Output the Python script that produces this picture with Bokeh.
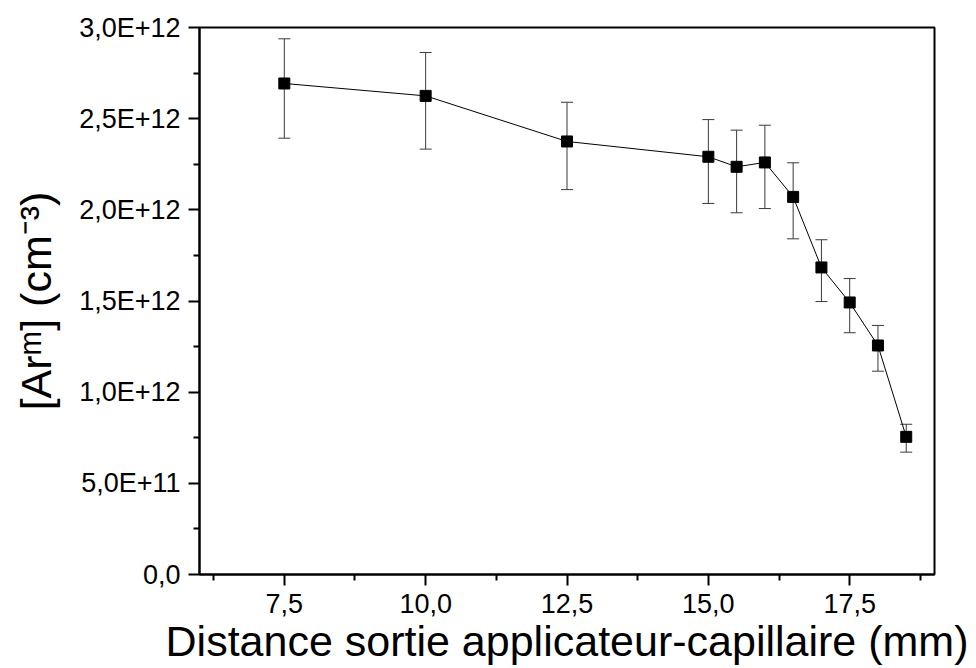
import numpy as np
from bokeh.plotting import figure
from bokeh.models import (Range1d, FixedTicker, CustomJSTickFormatter, Whisker,
                          TeeHead, ColumnDataSource)
from bokeh.embed import file_html
from bokeh.resources import INLINE

# ---- data ----
distance_mm = [7.5, 10.0, 12.5, 15.0, 15.5, 16.0, 16.5, 17.0, 17.5, 18.0, 18.5]
ar_m = [2.693e12, 2.625e12, 2.375e12, 2.291e12, 2.236e12, 2.260e12,
        2.071e12, 1.684e12, 1.492e12, 1.256e12, 0.755e12]
ar_m_upper = [2.938e12, 2.863e12, 2.590e12, 2.495e12, 2.437e12, 2.464e12,
              2.258e12, 1.836e12, 1.623e12, 1.366e12, 0.824e12]
ar_m_lower = [2.393e12, 2.333e12, 2.111e12, 2.035e12, 1.984e12, 2.007e12,
              1.841e12, 1.497e12, 1.326e12, 1.115e12, 0.671e12]

x_tick_values = [7.5, 10.0, 12.5, 15.0, 17.5]
x_tick_labels = ["7,5", "10,0", "12,5", "15,0", "17,5"]
y_tick_values = [0.0, 0.5e12, 1.0e12, 1.5e12, 2.0e12, 2.5e12, 3.0e12]
y_tick_labels = ["0,0", "5,0E+11", "1,0E+12", "1,5E+12", "2,0E+12", "2,5E+12", "3,0E+12"]

x_title = "Distance sortie applicateur-capillaire (mm)"
y_title = "[Ar\u1d50] (cm\u207b\u00b3)"

FONT = "Liberation Sans"

src = ColumnDataSource(dict(x=distance_mm, y=ar_m, up=ar_m_upper, lo=ar_m_lower))

p = figure(width=976, height=668, output_backend="svg", toolbar_location=None,
           x_range=Range1d(6.0, 19.0), y_range=Range1d(0.0, 3.0e12),
           min_border_left=199, min_border_right=42, min_border_top=27,
           min_border_bottom=94)
p.background_fill_color = "white"
p.border_fill_color = "white"
p.grid.visible = False
p.outline_line_color = "black"
p.outline_line_width = 2

# minor ticks halfway between majors (computed from the major spacing)
x_minor = list(np.arange(6.25, 19.0, 2.5))
y_minor = list(np.arange(0.25e12, 3.0e12, 0.5e12))

fmt_code = """
let best = 0;
for (let i = 0; i < vals.length; i++) {
  if (Math.abs(vals[i] - tick) < Math.abs(vals[best] - tick)) best = i;
}
return labs[best];
"""
p.xaxis.ticker = FixedTicker(ticks=x_tick_values, minor_ticks=x_minor)
p.yaxis.ticker = FixedTicker(ticks=y_tick_values, minor_ticks=y_minor)
p.xaxis.formatter = CustomJSTickFormatter(args=dict(vals=x_tick_values, labs=x_tick_labels), code=fmt_code)
p.yaxis.formatter = CustomJSTickFormatter(args=dict(vals=y_tick_values, labs=y_tick_labels), code=fmt_code)

for ax in (p.xaxis[0], p.yaxis[0]):
    ax.axis_line_width = 2
    ax.axis_line_color = "black"
    ax.major_tick_line_width = 2
    ax.minor_tick_line_width = 2
    ax.major_tick_in = 0
    ax.major_tick_out = 11
    ax.minor_tick_in = 0
    ax.minor_tick_out = 6
    ax.major_label_text_font = FONT
    ax.major_label_text_font_size = "27px"
    ax.major_label_text_color = "black"
    ax.major_label_standoff = 8
    ax.axis_label_text_font = FONT
    ax.axis_label_text_font_size = "43px"
    ax.axis_label_text_font_style = "normal"
    ax.axis_label_text_color = "black"

p.xaxis.axis_label = x_title
p.xaxis.axis_label_standoff = 1
p.yaxis.axis_label = y_title
p.yaxis.axis_label_standoff = 16

# connecting line and markers
p.line("x", "y", source=src, line_color="black", line_width=1)
err = Whisker(base="x", upper="up", lower="lo", source=src,
              line_color="#3a3a3a", line_width=1,
              upper_head=TeeHead(size=12, line_color="#3a3a3a", line_width=1),
              lower_head=TeeHead(size=12, line_color="#3a3a3a", line_width=1))
p.add_layout(err)
p.scatter("x", "y", source=src, marker="square", size=11,
          fill_color="black", line_color="black")

open("out.html", "w").write(file_html(p, INLINE))
